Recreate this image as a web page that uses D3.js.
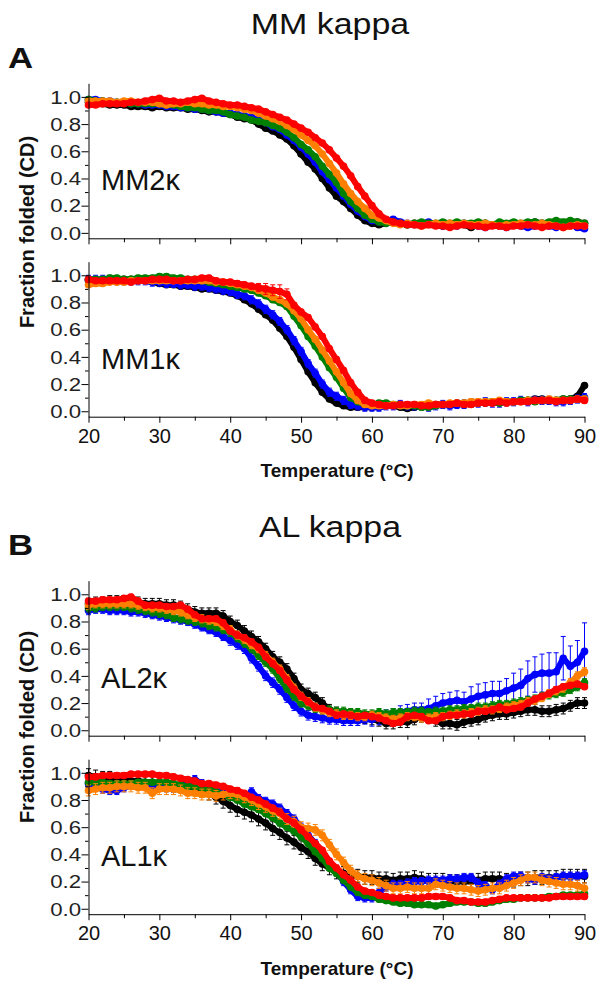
<!DOCTYPE html>
<html>
<head>
<meta charset="utf-8">
<script src="https://cdn.jsdelivr.net/npm/d3@7"></script>
<style>
  body { margin: 0; background: #fff; }
</style>
</head>
<body>
<div id="chart"></div>
<script>
// temperatures (°C), one reading per degree
const temps = [20,21,22,23,24,25,26,27,28,29,30,31,32,33,34,35,36,37,38,39,40,41,42,43,44,45,46,47,48,49,
  50,51,52,53,54,55,56,57,58,59,60,61,62,63,64,65,66,67,68,69,70,71,72,73,74,75,76,77,78,79,80,81,82,83,84,85,86,87,88,89,90];

// MM2 kappa
const mm2Black = [.96,.95,.95,.94,.94,.94,.93,.93,.93,.92, .93,.92,.92,.92,.91,.91,.90,.89,.89,.88, .87,.85,.84,.83,.80,.77,.75,.72,.69,.64,
  .58,.52,.47,.40,.33,.27,.23,.18,.13,.09, .07,.06,.07,.08,.07,.06,.07,.06,.07,.06, .05,.06,.07,.06,.04,.06,.07,.06,.05,.06, .07,.06,.07,.08,.07,.07,.06,.07,.08,.08, .07];
const mm2Blue = [.98,.98,.97,.97,.96,.96,.95,.95,.94,.94, .94,.93,.93,.92,.92,.91,.91,.90,.89,.88, .88,.87,.86,.85,.83,.81,.78,.76,.72,.68,
  .63,.58,.52,.45,.39,.33,.27,.21,.16,.12, .09,.08,.09,.10,.08,.07,.06,.07,.08,.06, .05,.06,.05,.07,.06,.05,.04,.06,.05,.04, .06,.05,.04,.05,.06,.05,.04,.05,.06,.04, .03];
const mm2Green = [.98,.97,.97,.96,.96,.96,.95,.95,.95,.95, .95,.94,.94,.93,.92,.92,.91,.90,.90,.89, .87,.86,.85,.83,.82,.81,.79,.77,.74,.70,
  .65,.61,.56,.49,.43,.37,.29,.23,.18,.13, .10,.08,.07,.08,.07,.06,.07,.08,.07,.07, .08,.07,.08,.07,.07,.08,.07,.06,.08,.07, .08,.07,.08,.08,.07,.08,.09,.08,.09,.08, .07];
const mm2Orange = [.97,.97,.97,.97,.96,.97,.97,.96,.96,.96, .95,.94,.95,.95,.96,.95,.95,.94,.94,.93, .93,.92,.91,.90,.88,.86,.84,.82,.79,.76,
  .72,.68,.64,.58,.51,.44,.36,.29,.23,.18, .13,.11,.09,.07,.06,.07,.06,.05,.06,.07, .06,.07,.06,.07,.06,.06,.07,.06,.05,.06, .06,.07,.06,.06,.07,.06,.05,.04,.05,.06, .05];
const mm2Red = [.94,.94,.95,.95,.95,.95,.96,.96,.97,.98, .99,.97,.97,.96,.97,.98,.99,.97,.96,.95, .94,.94,.93,.92,.91,.89,.87,.85,.83,.80,
  .77,.74,.70,.66,.61,.55,.49,.42,.34,.27, .20,.14,.10,.08,.07,.06,.06,.05,.06,.05, .05,.04,.05,.06,.05,.05,.04,.05,.05,.04, .05,.05,.06,.05,.04,.05,.05,.04,.05,.05, .05];
const mm2Err = [.015, .015, .015, .015, .015];

// MM1 kappa
const mm1Black = [.96,.96,.96,.96,.97,.97,.97,.96,.96,.95, .94,.93,.93,.92,.92,.91,.90,.90,.89,.88, .87,.85,.82,.79,.75,.71,.67,.61,.55,.47,
  .38,.29,.21,.14,.09,.06,.04,.03,.03,.03, .03,.03,.04,.04,.03,.02,.03,.04,.04,.05, .05,.05,.05,.06,.06,.06,.06,.07,.07,.07, .07,.08,.08,.09,.09,.08,.08,.09,.09,.11, .19];
const mm1Blue = [.97,.97,.97,.97,.96,.96,.96,.96,.96,.95, .95,.94,.94,.93,.93,.92,.92,.91,.90,.89, .88,.86,.85,.82,.79,.75,.71,.66,.60,.52,
  .44,.35,.28,.20,.14,.11,.08,.05,.04,.03, .03,.03,.04,.04,.05,.04,.04,.04,.03,.04, .05,.04,.05,.05,.06,.06,.07,.06,.06,.07, .07,.08,.07,.08,.08,.08,.07,.07,.08,.09, .10];
const mm1Green = [.97,.97,.97,.98,.98,.97,.97,.98,.98,.98, .99,.99,.98,.98,.97,.97,.96,.95,.94,.93, .92,.91,.90,.89,.87,.85,.82,.80,.77,.70,
  .63,.55,.48,.40,.32,.25,.17,.10,.07,.05, .05,.06,.06,.05,.05,.04,.04,.03,.03,.04, .05,.05,.06,.05,.06,.06,.07,.07,.06,.07, .07,.08,.08,.07,.08,.08,.08,.09,.09,.09, .09];
const mm1Orange = [.93,.94,.94,.95,.95,.95,.96,.96,.96,.96, .96,.96,.96,.96,.96,.96,.96,.96,.95,.95, .94,.93,.92,.91,.89,.87,.84,.82,.79,.74,
  .68,.60,.53,.45,.37,.29,.21,.13,.08,.05, .04,.04,.04,.05,.04,.04,.05,.05,.06,.05, .05,.06,.06,.06,.07,.07,.07,.07,.08,.07, .07,.07,.08,.08,.08,.09,.08,.08,.08,.09, .09];
const mm1Red = [.97,.96,.96,.96,.96,.96,.95,.96,.96,.97, .97,.97,.96,.96,.97,.97,.98,.98,.96,.95, .95,.94,.93,.92,.91,.90,.89,.88,.86,.78,
  .73,.69,.62,.55,.46,.38,.30,.21,.14,.08, .06,.05,.04,.04,.05,.05,.05,.04,.04,.05, .05,.05,.06,.05,.05,.06,.06,.06,.07,.06, .07,.07,.07,.08,.08,.08,.07,.08,.08,.09, .08];
const mm1RedErr = [.02,.02,.02,.02,.02,.02,.02,.02,.02,.02, .02,.02,.02,.02,.02,.02,.02,.02,.02,.02, .02,.02,.02,.02,.03,.04,.04,.05,.04,.02,
  .02,.02,.02,.02,.02,.02,.02,.02,.02,.02, .02,.02,.02,.02,.02,.02,.02,.02,.02,.02, .02,.02,.02,.02,.02,.02,.02,.02,.02,.02, .02,.02,.02,.02,.02,.02,.02,.02,.02,.02, .02];
const mm1Err = [.015, .03, .02, .02, mm1RedErr];

// AL2 kappa
const al2Black = [.93,.94,.94,.95,.95,.95,.95,.94,.93,.93, .93,.92,.92,.91,.89,.87,.86,.86,.86,.84, .80,.77,.73,.69,.65,.60,.54,.50,.45,.38,
  .30,.27,.24,.20,.15,.13,.12,.11,.10,.09, .08,.07,.05,.05,.06,.06,.08,.10,.10,.07, .05,.05,.04,.06,.07,.08,.10,.11,.12,.12, .13,.14,.15,.15,.14,.14,.15,.16,.18,.20, .20];
const al2Blue = [.88,.89,.89,.88,.88,.88,.87,.87,.86,.85, .84,.83,.82,.81,.80,.78,.76,.74,.72,.69, .66,.63,.60,.53,.47,.40,.35,.30,.24,.18,
  .14,.11,.10,.09,.08,.08,.07,.07,.07,.08, .08,.09,.10,.11,.13,.14,.15,.15,.16,.18, .20,.21,.22,.21,.23,.25,.26,.27,.27,.29, .31,.33,.38,.41,.42,.42,.43,.53,.47,.50, .58];
const al2Green = [.90,.90,.91,.91,.91,.91,.90,.89,.88,.87, .86,.85,.83,.82,.81,.80,.79,.77,.76,.74, .72,.68,.64,.60,.55,.50,.45,.38,.31,.25,
  .20,.18,.16,.15,.15,.14,.14,.13,.13,.12, .12,.13,.12,.13,.13,.13,.14,.14,.13,.14, .14,.15,.15,.16,.16,.17,.17,.18,.19,.19, .20,.21,.22,.23,.25,.26,.27,.28,.30,.32, .35];
const al2Orange = [.92,.93,.93,.93,.93,.93,.93,.92,.91,.90, .90,.89,.88,.87,.85,.83,.82,.81,.80,.77, .74,.70,.67,.63,.60,.55,.50,.45,.38,.31,
  .25,.21,.17,.15,.13,.12,.11,.11,.10,.10, .11,.10,.09,.08,.09,.10,.10,.09,.09,.10, .10,.11,.12,.12,.13,.14,.15,.15,.16,.17, .18,.19,.21,.22,.24,.27,.29,.31,.35,.40, .43];
const al2Red = [.95,.95,.96,.96,.96,.97,.98,.95,.92,.92, .92,.91,.91,.92,.89,.85,.82,.82,.82,.79, .73,.70,.68,.65,.61,.54,.49,.44,.37,.30,
  .25,.21,.17,.16,.14,.11,.12,.11,.10,.11, .10,.09,.07,.05,.06,.10,.11,.10,.07,.07, .10,.11,.11,.12,.12,.14,.14,.15,.17,.15, .16,.17,.20,.23,.25,.27,.30,.32,.33,.34, .32];
const al2BlueErr = [.03,.03,.03,.03,.03,.03,.03,.03,.03,.03, .03,.03,.03,.03,.03,.03,.03,.03,.03,.03, .035,.035,.035,.035,.035,.035,.035,.035,.035,.035,
  .035,.035,.035,.035,.035,.035,.035,.035,.035,.035, .05,.05,.05,.05,.05,.05,.05,.05,.07,.07, .07,.07,.07,.07,.09,.09,.09,.09,.09,.09, .11,.12,.13,.13,.14,.15,.14,.16,.15,.16, .21];
const al2Err = [.04, al2BlueErr, .03, .03, .02];

// AL1 kappa
const al1Black = [.98,.97,.96,.96,.95,.95,.94,.94,.93,.93, .92,.92,.91,.91,.90,.89,.87,.85,.82,.79, .76,.73,.71,.69,.66,.63,.59,.56,.52,.49,
  .45,.42,.37,.33,.30,.27,.26,.25,.24,.23, .23,.22,.22,.21,.22,.22,.23,.22,.21,.21, .21,.20,.20,.20,.20,.21,.22,.22,.22,.21, .21,.22,.22,.23,.23,.23,.23,.24,.24,.24, .24];
const al1Blue = [.92,.90,.88,.87,.87,.89,.91,.92,.92,.91, .90,.89,.89,.91,.93,.95,.92,.89,.87,.85, .84,.82,.80,.86,.81,.79,.77,.74,.70,.66,
  .60,.54,.48,.42,.34,.27,.20,.14,.09,.08, .08,.12,.16,.18,.18,.19,.20,.20,.21,.21, .21,.22,.22,.23,.23,.19,.17,.14,.18,.22, .24,.24,.22,.21,.23,.22,.23,.24,.24,.24, .25];
const al1Green = [.93,.93,.93,.92,.92,.92,.92,.93,.93,.93, .93,.93,.92,.91,.90,.90,.89,.88,.86,.84, .82,.80,.77,.75,.73,.70,.67,.63,.60,.57,
  .53,.48,.42,.37,.30,.26,.21,.16,.12,.10, .09,.07,.06,.05,.04,.04,.03,.03,.03,.02, .03,.04,.05,.05,.05,.04,.04,.05,.06,.07, .07,.08,.08,.08,.08,.09,.09,.10,.10,.10, .11];
const al1Orange = [.87,.88,.89,.89,.90,.90,.90,.89,.89,.85, .88,.88,.88,.87,.85,.85,.84,.84,.83,.84, .85,.84,.82,.80,.77,.75,.72,.70,.66,.64,
  .60,.59,.58,.54,.47,.40,.34,.28,.24,.22, .21,.19,.17,.15,.15,.16,.15,.15,.15,.18, .17,.16,.15,.15,.14,.13,.14,.15,.15,.17, .19,.21,.23,.23,.21,.20,.19,.18,.18,.17, .15];
const al1Red = [.97,.97,.98,.98,.98,.98,.99,.99,.99,.99, .98,.98,.97,.96,.95,.94,.92,.92,.91,.90, .88,.87,.85,.82,.80,.77,.74,.71,.66,.63,
  .58,.53,.48,.43,.35,.30,.25,.21,.16,.13, .12,.10,.09,.08,.08,.08,.08,.08,.09,.09, .09,.08,.06,.06,.05,.05,.05,.06,.07,.08, .08,.08,.08,.08,.08,.08,.09,.09,.09,.09, .09];
const al1Err = [.05, .03, .02, .04, .02];

const seriesColors = ['#000000', '#0000ff', '#008000', '#ff8000', '#ff0000'];
const panelNames = ['MM2κ', 'MM1κ', 'AL2κ', 'AL1κ'];
const xMajor = [20, 30, 40, 50, 60, 70, 80, 90];
const xMinor = [25, 35, 45, 55, 65, 75, 85];
const yMajor = [0, 0.2, 0.4, 0.6, 0.8, 1.0];
const yMinor = [0.1, 0.3, 0.5, 0.7, 0.9];

const panelSeries = [
  [mm2Black, mm2Blue, mm2Green, mm2Orange, mm2Red],
  [mm1Black, mm1Blue, mm1Green, mm1Orange, mm1Red],
  [al2Black, al2Blue, al2Green, al2Orange, al2Red],
  [al1Black, al1Blue, al1Green, al1Orange, al1Red]
];
const panelErrs = [mm2Err, mm1Err, al2Err, al1Err];

const width = 604, height = 989;
const font = '"Liberation Sans", Arial, sans-serif';
const panelTops = [83.3, 261.7, 580.7, 759.2];
const panelH = 155;
const showXLabels = [false, true, false, true];

const svg = d3.select('#chart').append('svg')
  .attr('width', width)
  .attr('height', height)
  .style('font-family', font)
  .style('background', '#fff');

const x = d3.scaleLinear().domain([20, 90]).range([88.5, 584.5]);

panelSeries.forEach((series, p) => {
  const top = panelTops[p];
  const y = d3.scaleLinear().domain([-0.04, 1.1]).range([top + panelH, top]);
  const g = svg.append('g');

  // data: black first, red last (on top)
  series.forEach((vals, s) => {
    const color = seriesColors[s];
    const errSpec = panelErrs[p][s];
    const pts = temps.map((t, i) => ({
      t: t,
      v: vals[i],
      e: Array.isArray(errSpec) ? errSpec[i] : errSpec
    }));

    const line = d3.line().x(d => x(d.t)).y(d => y(d.v));
    g.append('path')
      .datum(pts)
      .attr('d', line)
      .attr('fill', 'none')
      .attr('stroke', color)
      .attr('stroke-width', 6)
      .attr('stroke-linejoin', 'round')
      .attr('stroke-linecap', 'round');

    const eb = g.append('g').attr('stroke', color).attr('stroke-width', 1);
    eb.selectAll('line.bar').data(pts).join('line')
      .attr('class', 'bar')
      .attr('x1', d => x(d.t)).attr('x2', d => x(d.t))
      .attr('y1', d => y(d.v - d.e)).attr('y2', d => y(d.v + d.e));
    eb.selectAll('line.capt').data(pts).join('line')
      .attr('class', 'capt')
      .attr('x1', d => x(d.t) - 2.5).attr('x2', d => x(d.t) + 2.5)
      .attr('y1', d => y(d.v + d.e)).attr('y2', d => y(d.v + d.e));
    eb.selectAll('line.capb').data(pts).join('line')
      .attr('class', 'capb')
      .attr('x1', d => x(d.t) - 2.5).attr('x2', d => x(d.t) + 2.5)
      .attr('y1', d => y(d.v - d.e)).attr('y2', d => y(d.v - d.e));

    g.append('g').selectAll('circle').data(pts).join('circle')
      .attr('cx', d => x(d.t))
      .attr('cy', d => y(d.v))
      .attr('r', 3.8)
      .attr('fill', color);
  });

  // x axis
  const xg = svg.append('g').attr('transform', `translate(0,${top + panelH})`);
  xg.call(d3.axisBottom(x).tickValues(xMajor).tickSize(6).tickSizeOuter(0)
    .tickFormat(showXLabels[p] ? d3.format('d') : ''));
  xg.append('g').call(d3.axisBottom(x).tickValues(xMinor).tickSize(4).tickFormat(''))
    .call(a => a.select('.domain').remove());
  xg.selectAll('text')
    .attr('y', 26).attr('dy', 0)
    .style('font-size', '20px').style('font-family', font).attr('fill', '#111');

  // y axis
  const yg = svg.append('g').attr('transform', `translate(${x(20)},0)`);
  yg.call(d3.axisLeft(y).tickValues(yMajor).tickSize(7).tickSizeOuter(0).tickFormat(d3.format('.1f')));
  yg.append('g').call(d3.axisLeft(y).tickValues(yMinor).tickSize(3.5).tickFormat(''))
    .call(a => a.select('.domain').remove());
  yg.selectAll('text')
    .attr('x', -5.8).attr('dy', '0.36em')
    .attr('transform', 'scale(1.27,1)')
    .style('font-size', '17.5px').style('font-family', font).attr('fill', '#222');

  svg.selectAll('.domain, .tick line').attr('stroke', '#000').attr('stroke-width', 1);

  // panel label
  svg.append('text')
    .attr('x', 101).attr('y', top + 107)
    .style('font-size', '29px').attr('fill', '#111')
    .text(panelNames[p]);
});

// headings
const headings = [
  { text: 'MM kappa', letter: 'A', y: 34, ly: 68, ty: 477, axisMid: 232 },
  { text: 'AL kappa', letter: 'B', y: 537, ly: 555, ty: 975, axisMid: 727 }
];
headings.forEach(h => {
  svg.append('text')
    .attr('transform', `translate(330,${h.y}) scale(1.17,1)`)
    .attr('text-anchor', 'middle')
    .style('font-size', '29px').attr('fill', '#111')
    .text(h.text);
  svg.append('text')
    .attr('transform', `translate(8,${h.ly}) scale(1.2,1)`)
    .style('font-size', '29px').style('font-weight', 'bold').attr('fill', '#111')
    .text(h.letter);
  svg.append('text')
    .attr('x', 337).attr('y', h.ty)
    .attr('text-anchor', 'middle')
    .style('font-size', '19px').style('font-weight', 'bold').attr('fill', '#111')
    .text('Temperature (°C)');
  svg.append('text')
    .attr('transform', `translate(34,${h.axisMid}) rotate(-90)`)
    .attr('text-anchor', 'middle')
    .style('font-size', '20px').style('font-weight', 'bold').attr('fill', '#111')
    .text('Fraction folded (CD)');
});
</script>
</body>
</html>
